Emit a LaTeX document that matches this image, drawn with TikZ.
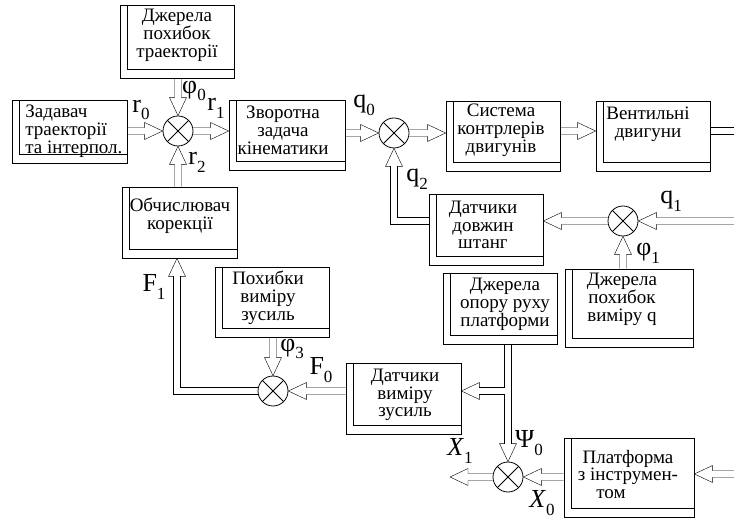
\documentclass[tikz,border=0pt]{standalone}
\usepackage{fontspec}
\setmainfont{Liberation Serif}
\usetikzlibrary{calc,backgrounds}
\newcommand{\arrW}{3.5pt}
\newcommand{\arrH}{8.5pt}
\newcommand{\arrL}{18pt}
\newcommand{\sublb}[2]{#1\raisebox{-0.3em}{\fontsize{17}{17}\selectfont #2}}
\tikzset{
 blk/.style={draw, inner sep=0pt, path picture={\draw ([xshift=7.5pt]path picture bounding box.north west) |- ([yshift=8.5pt]path picture bounding box.south east);}},
 sj/.style={circle, draw, minimum size=30pt, inner sep=0pt, path picture={\draw (path picture bounding box.center) +(45:20pt) -- +(225:20pt) (path picture bounding box.center) +(135:20pt) -- +(315:20pt);}},
 txt/.style={align=center, inner sep=0pt, font=\fontsize{19}{17.8}\selectfont},
 lab/.style={inner sep=0pt, font=\fontsize{26}{26}\selectfont},
 dl/.style={draw=white, line width=6.2pt, preaction={draw=black, line width=7.8pt}},
 harr/.style={to path={let \p1=(\tikztostart), \p2=(\tikztotarget), \n1={atan2(\y2-\y1,\x2-\x1)} in
   ($(\p1)+(\n1+90:\arrW)$) -- ($(\p2)+(\n1+180:\arrL)+(\n1+90:\arrW)$) -- ($(\p2)+(\n1+180:\arrL)+(\n1+90:\arrH)$) -- (\p2) -- ($(\p2)+(\n1+180:\arrL)+(\n1-90:\arrH)$) -- ($(\p2)+(\n1+180:\arrL)+(\n1-90:\arrW)$) -- ($(\p1)+(\n1-90:\arrW)$)}},
 hd/.style={to path={let \p1=(\tikztostart), \p2=(\tikztotarget), \n1={atan2(\y2-\y1,\x2-\x1)} in
   ($(\p2)+(\n1+180:\arrL)+(\n1+90:\arrW)$) -- ($(\p2)+(\n1+180:\arrL)+(\n1+90:\arrH)$) -- (\p2) -- ($(\p2)+(\n1+180:\arrL)+(\n1-90:\arrH)$) -- ($(\p2)+(\n1+180:\arrL)+(\n1-90:\arrW)$)}},
}
\begin{document}
\begin{tikzpicture}[x=1pt,y=-1pt,line width=0.8pt]
\useasboundingbox (0,0) rectangle (734,518);
% blocks
\node[blk, minimum width=114pt, minimum height=73pt] (src) at (177,41.5) {};
\node[blk, minimum width=115pt, minimum height=63pt] (set) at (69.5,131.5) {};
\node[blk, minimum width=116pt, minimum height=70pt] (inv) at (287,135) {};
\node[blk, minimum width=114pt, minimum height=70pt] (ctrl) at (503,136) {};
\node[blk, minimum width=114pt, minimum height=70pt] (mot) at (653,136) {};
\node[blk, minimum width=115pt, minimum height=71pt] (corr) at (179.5,222.5) {};
\node[blk, minimum width=114pt, minimum height=71pt] (len) at (486,229.5) {};
\node[blk, minimum width=114pt, minimum height=71pt] (sup) at (500,308.5) {};
\node[blk, minimum width=128pt, minimum height=78pt] (meas) at (629,308) {};
\node[blk, minimum width=114pt, minimum height=70pt] (ferr) at (272,302) {};
\node[blk, minimum width=115pt, minimum height=71pt] (force) at (403.5,398.5) {};
\node[blk, minimum width=130pt, minimum height=79pt] (plat) at (629,477.5) {};
% block texts
\node[txt] (srcT) at (177,35.5) {Джерела\\похибок\\траекторії};
\node[txt, align=left, anchor=west] (setT) at (25,131) {Задавач\\траекторії\\та інтерпол.};
\node[txt] (invT) at (283,130.5) {Зворотна\\задача\\кінематики};
\node[txt] (ctrlT) at (501,130) {Система\\контрлерів\\двигунів};
\node[txt] (motT) at (648,124.5) {Вентильні\\двигуни};
\node[txt] (corrT) at (180,216) {Обчислювач\\корекції};
\node[txt] (lenT) at (483,225) {Датчики\\довжин\\штанг};
\node[txt] (supT) at (505,304.5) {Джерела\\опору руху\\платформи};
\node[txt] (measT) at (622,299.5) {Джерела\\похибок\\виміру q};
\node[txt] (ferrT) at (268,297.5) {Похибки\\виміру\\зусиль};
\node[txt] (forceT) at (405,395) {Датчики\\виміру\\зусиль};
\node[txt] (platT) at (628,474.5) {Платформа\\з інструмен-\\\hspace*{-34pt}том};
% summing junctions
\node[sj] (s1) at (178,131) {};
\node[sj] (s2) at (394,133) {};
\node[sj] (s3) at (623,221) {};
\node[sj] (s4) at (273,391) {};
\node[sj] (s5) at (508,477) {};
% free ends and corners
\coordinate (e1) at (734,131);
\coordinate (e2) at (734,221);
\coordinate (e3) at (734,474);
\coordinate (e4) at (450,477);
\coordinate (k1) at (s2.center |- s3.center);
\coordinate (k2) at (177,391);
\coordinate (k3) at (s5.center |- s4.center);
\coordinate (k4) at (corr.south -| k2);
\coordinate (k5) at (force.east |- k3);
% labels
\node[lab] (lr0) at (141,110) {\sublb{r}{0}};
\node[lab] (lphi0) at (194,91) {\sublb{φ}{0}};
\node[lab] (lr1) at (216,108) {\sublb{r}{1}};
\node[lab] (lr2) at (197,162) {\sublb{r}{2}};
\node[lab] (lq0) at (364,105) {\sublb{q}{0}};
\node[lab] (lq2) at (417,179) {\sublb{q}{2}};
\node[lab] (lq1) at (671,201) {\sublb{q}{1}};
\node[lab] (lphi1) at (648,253) {\sublb{φ}{1}};
\node[lab] (lF1) at (154,287) {\sublb{F}{1}};
\node[lab] (lphi3) at (292,349) {\sublb{φ}{3}};
\node[lab] (lF0) at (321,370) {\sublb{F}{0}};
\node[lab] (lpsi0) at (529,443) {\sublb{Ψ}{0}};
\node[lab] (lX1) at (460,451) {\sublb{\textit{X}}{1}};
\node[lab] (lX0) at (542,503) {\sublb{\textit{X}}{0}};
% connectors
\begin{scope}[on background layer]
\draw (set.east |- s1.center) to[harr] (s1.west);
\draw (s1.center |- src.south) to[harr] (s1.north);
\draw (s1.east) to[harr] (inv.west |- s1.center);
\draw (s1.center |- corr.north) to[harr] (s1.south);
\draw (inv.east |- s2.center) to[harr] (s2.west);
\draw (s2.east) to[harr] (ctrl.west |- s2.center);
\draw (ctrl.east |- s1.center) to[harr] (mot.west |- s1.center);
\draw[dl] (mot.east |- e1) -- (e1);
\draw (e2) to[harr] (s3.east);
\draw (s3.west) to[harr] (len.east |- s3.center);
\draw (s3.center |- meas.north) to[harr] (s3.south);
\draw[dl] (len.west |- k1) -- (k1) -- ($(s2.south)!\arrL!(k1)$);
\draw (k1) to[hd] (s2.south);
\draw[dl] (s4.west) -- (k2) -- ($(k4)!\arrL!(k2)$);
\draw (k2) to[hd] (k4);
\draw (s4.center |- ferr.south) to[harr] (s4.north);
\draw (force.west |- s4.center) to[harr] (s4.east);
\draw[dl] (s5.center |- sup.south) -- ($(s5.north)!\arrL!(k3)$);
\draw (k3) to[hd] (s5.north);
\draw[dl] ([xshift=-3.1pt]k3) -- ($(k5)!\arrL!(k3)$);
\draw (k3) to[hd] (k5);
\draw (plat.west |- s5.center) to[harr] (s5.east);
\draw (e3) to[harr] (plat.east |- e3);
\draw (s5.west) to[harr] (e4);
\end{scope}
\end{tikzpicture}
\end{document}
